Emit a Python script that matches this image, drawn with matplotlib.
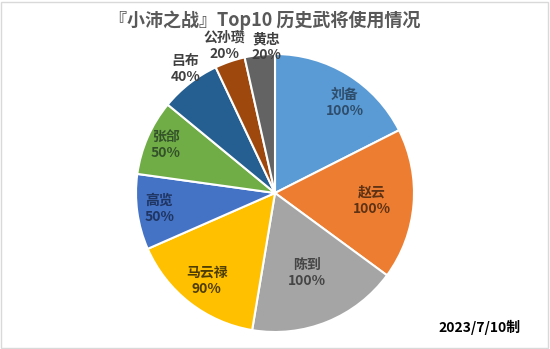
import matplotlib
matplotlib.use('Agg')
import matplotlib.pyplot as plt
from matplotlib.patches import Rectangle
import numpy as np

plt.rcParams['font.family'] = ['Noto Sans CJK SC', 'DejaVu Sans']

# Usage rate of the top generals
names = ['刘备', '赵云', '陈到', '马云禄', '高览', '张郃', '吕布', '公孙瓒', '黄忠']
rates = [100, 100, 100, 90, 50, 50, 40, 20, 20]
colors = ['#5B9BD5', '#ED7D31', '#A5A5A5', '#FFC000', '#4472C4',
          '#70AD47', '#255E91', '#9E480E', '#636363']
label_colors = ['#2E4D6B', '#5E3214', '#454545', '#4D3D00', '#1F3562',
                '#34522A', '#404040', '#404040', '#404040']
label_radius = [0.82, 0.70, 0.62, 0.80, 0.84, 0.86, 1.10, 1.12, 1.05]
label_shift = [-6, 0, 0, 0, 0, 0, -2, 0, -3]   # degrees

W, H = 550, 349
fig = plt.figure(figsize=(W / 100, H / 100), dpi=100)
fig.patches.append(Rectangle((0.002, 0.004), 0.994, 0.99, transform=fig.transFigure,
                             fill=False, edgecolor='#D9D9D9', linewidth=1))

cx, cy, r = 275, 193, 139
ax = fig.add_axes([(cx - r) / W, (H - cy - r) / H, 2 * r / W, 2 * r / H])
wedges, _ = ax.pie(rates, colors=colors, startangle=90, counterclock=False,
                   radius=1, wedgeprops=dict(edgecolor='white', linewidth=1.5))
ax.set_xlim(-1, 1)
ax.set_ylim(-1, 1)
ax.set_aspect('auto')
ax.axis('off')

for w, name, val, lc, lr, sh in zip(wedges, names, rates, label_colors,
                                     label_radius, label_shift):
    ang = np.deg2rad((w.theta1 + w.theta2) / 2 + sh)
    x, y = lr * np.cos(ang), lr * np.sin(ang)
    ax.text(x, y, f'{name}\n{val}%', ha='center', va='center', fontsize=10,
            fontweight='bold', color=lc, linespacing=1.2, clip_on=False)

fig.text(265 / W, 1 - 20 / H, '『小沛之战』Top10 历史武将使用情况', ha='center', va='center',
         fontsize=13, fontweight='bold', color='#595959')
fig.text(480 / W, 1 - 327 / H, '2023/7/10制', ha='center', va='center',
         fontsize=10, fontweight='bold', color='black')

fig.savefig('out.png', dpi=100)
